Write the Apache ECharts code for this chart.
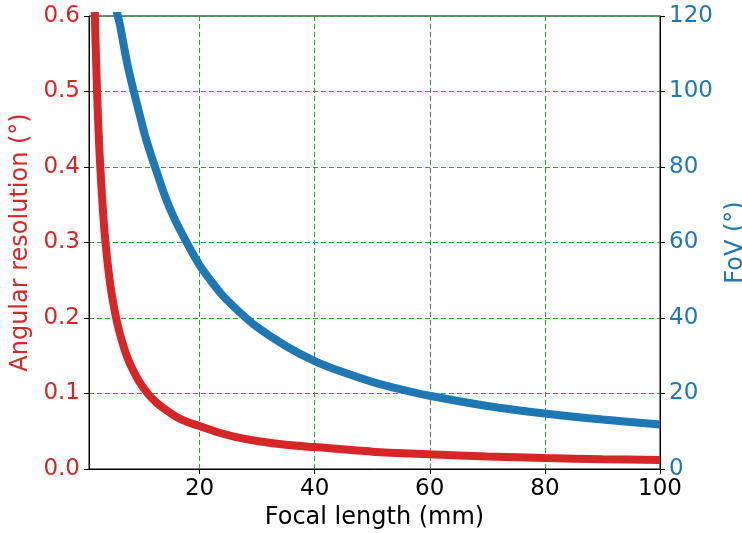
<!DOCTYPE html>
<html>
<head>
<meta charset="utf-8">
<script src="https://cdn.jsdelivr.net/npm/echarts@6/dist/echarts.min.js"></script>
<style>
html,body{margin:0;padding:0;background:#fff;}
#chart{width:742px;height:533px;}
</style>
</head>
<body>
<div id="chart"></div>
<script>
// Focal length (mm) for the angular-resolution curve and its values (°)
const resX = [1.8, 1.9, 2.0, 2.2, 2.5, 2.8, 3.2, 3.6, 4.2, 4.8, 5.6, 6.5, 7.5, 8.5, 9.5, 11, 12.5, 14, 16, 18, 20, 23, 26, 30, 35, 40, 50, 60, 70, 80, 90, 100];
const resY = [0.61, 0.575, 0.55, 0.50, 0.44, 0.395, 0.345, 0.305, 0.262, 0.229, 0.197, 0.17, 0.147, 0.13, 0.116, 0.1, 0.088, 0.079, 0.069, 0.062, 0.057, 0.049, 0.043, 0.037, 0.032, 0.029, 0.023, 0.0195, 0.0165, 0.0145, 0.013, 0.012];
// Focal length (mm) for the FoV curve and its values (°)
const fovX = [5.5, 5.8, 6.2, 6.8, 7.5, 8.5, 9.5, 10.5, 11.5, 12.5, 14, 15.5, 17.6, 20, 22, 24, 27, 30, 35, 40, 45, 50, 55, 60, 70, 80, 90, 100];
const fovY = [122, 120, 117.5, 112.5, 107, 100.5, 94.5, 88.5, 83.5, 79, 72.3, 66.8, 60.5, 54, 49.8, 46, 41.5, 37.6, 32.6, 28.6, 25.6, 23.1, 21.1, 19.4, 16.7, 14.7, 13.1, 11.8];
const xTicks = [20, 40, 60, 80, 100];
const xMin = 0.8, xMax = 100;
const leftMax = 0.6, leftStep = 0.1;
const rightMax = 120, rightStep = 20;

const FONT = 'DejaVu Sans';
const RED = '#d62728', BLUE = '#1f77b4';
const zip = (a, b) => a.map((v, i) => [v, b[i]]);

const chart = echarts.init(document.getElementById('chart'), null, {renderer: 'canvas'});
chart.setOption({
  animation: false,
  backgroundColor: '#fff',
  grid: {left: 89, right: 82, top: 16, bottom: 64, outerBoundsMode: 'none', containLabel: false,
         show: true, borderColor: '#000', borderWidth: 1, backgroundColor: 'transparent'},
  xAxis: {
    type: 'value', min: xMin, max: xMax,
    name: 'Focal length (mm)', nameLocation: 'middle', nameGap: 37,
    nameTextStyle: {fontFamily: FONT, fontSize: 24, color: '#000'},
    axisLine: {show: true, onZero: false, lineStyle: {color: '#000', width: 1}},
    axisTick: {show: true, length: 5, inside: false, customValues: xTicks, lineStyle: {color: '#000'}},
    axisLabel: {customValues: xTicks, fontFamily: FONT, fontSize: 23, color: '#000', margin: 9},
    splitLine: {show: true, lineStyle: {color: '#3a9a3a', type: [5, 3], width: 1}}
  },
  yAxis: [
    {
      type: 'value', min: 0, max: leftMax, interval: leftStep, position: 'left',
      name: 'Angular resolution (°)', nameLocation: 'middle', nameGap: 49, nameRotate: 90,
      nameTextStyle: {fontFamily: FONT, fontSize: 24, color: RED},
      axisLine: {show: true, lineStyle: {color: '#000', width: 1}},
      axisTick: {show: true, length: 5, lineStyle: {color: '#000'}},
      axisLabel: {fontFamily: FONT, fontSize: 23, color: RED, margin: 9, formatter: v => v.toFixed(1)},
      splitLine: {show: true, lineStyle: {color: '#3a9a3a', type: [5, 3], width: 1}}
    },
    {
      type: 'value', min: 0, max: rightMax, interval: rightStep, position: 'right',
      name: 'FoV (°)', nameLocation: 'middle', nameGap: 56, nameRotate: 90,
      nameTextStyle: {fontFamily: FONT, fontSize: 24, color: BLUE},
      axisLine: {show: true, lineStyle: {color: '#000', width: 1}},
      axisTick: {show: true, length: 5, lineStyle: {color: '#000'}},
      axisLabel: {fontFamily: FONT, fontSize: 23, color: BLUE, margin: 9},
      splitLine: {show: false}
    }
  ],
  series: [
    {type: 'line', yAxisIndex: 0, data: zip(resX, resY), showSymbol: false, smooth: 0.3, clip: true,
     lineStyle: {color: RED, width: 8}, z: 3},
    {type: 'line', yAxisIndex: 1, data: zip(fovX, fovY), showSymbol: false, smooth: 0.3, clip: true,
     lineStyle: {color: BLUE, width: 8}, z: 3}
  ]
});
</script>
</body>
</html>
